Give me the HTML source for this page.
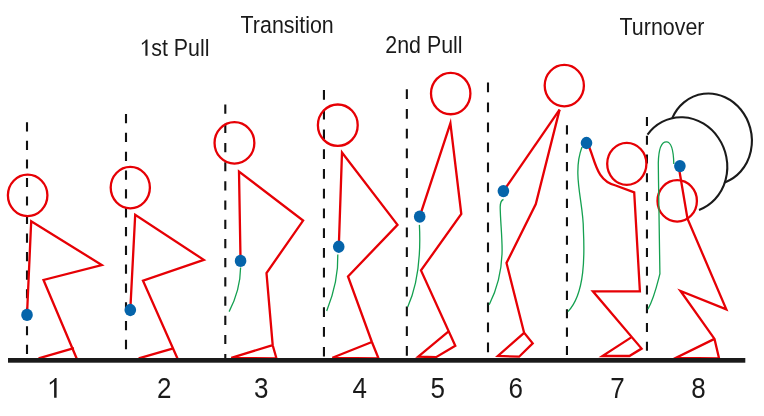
<!DOCTYPE html>
<html><head><meta charset="utf-8"><style>
html,body{margin:0;padding:0;background:#fff;width:764px;height:416px;overflow:hidden}
svg{display:block}
.t,text{will-change:transform}
text{font-family:"Liberation Sans",sans-serif;fill:#1a1a1a}
.r{fill:none;stroke:#e60005;stroke-width:2.3;stroke-linejoin:miter;stroke-miterlimit:5}
.g{fill:none;stroke:#14a050;stroke-width:1.3}
.d{stroke:#111;stroke-width:2.1}
.k{fill:none;stroke:#1a1a1a;stroke-width:2.1}
.b{fill:#0564aa}
</style></head><body>
<svg width="764" height="416" viewBox="0 0 764 416">
<!-- labels -->
<g class="t">
<text transform="translate(240.6 32.8) scale(1 1.08)" font-size="21.4">Transition</text>
<path d="M147.5,39.4 L147.5,55.8 L145.4,55.8 L145.4,42.3 C144.5,43.2 143.4,44.1 142.3,44.8 L141.9,44.5 L141.9,43.1 C143.6,42.1 145.2,40.8 146.2,39.4 Z" fill="#1a1a1a"/>
<text transform="translate(151.2 55.9) scale(1 1.08)" font-size="21.4">st Pull</text>
<text transform="translate(385.3 52.6) scale(1 1.08)" font-size="21.4">2nd Pull</text>
<text transform="translate(619.6 34.7) scale(1 1.08)" font-size="21.4">Turnover</text>
</g>
<!-- dashed lines -->
<line class="d" x1="27" y1="122.3" x2="27" y2="353.88" stroke-dasharray="9.1 9.44"/>
<line class="d" x1="126" y1="114" x2="126" y2="349.14" stroke-dasharray="9.3 9.52"/>
<line class="d" x1="225.3" y1="104.6" x2="225.3" y2="358.00" stroke-dasharray="9.2 9.99"/>
<line class="d" x1="323.95" y1="90" x2="323.95" y2="356.58" stroke-dasharray="9.7 10.06"/>
<line class="d" x1="406.85" y1="89.3" x2="406.85" y2="355.65" stroke-dasharray="9.6 10.15"/>
<line class="d" x1="488" y1="82.6" x2="488" y2="352.20" stroke-dasharray="9.6 10.4"/>
<line class="d" x1="566.95" y1="125.3" x2="566.95" y2="355.08" stroke-dasharray="9.1 9.29"/>
<line class="d" x1="646.95" y1="117" x2="646.95" y2="350.76" stroke-dasharray="9 9.73"/>

<!-- heads -->
<ellipse class="r" cx="27.65" cy="195.35" rx="19.75" ry="20.7"/>
<ellipse class="r" cx="130.3" cy="187.6" rx="19.6" ry="20.7"/>
<ellipse class="r" cx="234.45" cy="142.9" rx="19.9" ry="20.7"/>
<ellipse class="r" cx="337.8" cy="125.2" rx="19.9" ry="20.7"/>
<ellipse class="r" cx="450.7" cy="93.55" rx="19.7" ry="20.7"/>
<ellipse class="r" cx="564.3" cy="85.6" rx="19.6" ry="20.7"/>
<ellipse class="r" cx="626.8" cy="163.85" rx="19.6" ry="20.95"/>
<ellipse class="r" cx="677.2" cy="200.9" rx="19.7" ry="20.7"/>

<!-- barbell plates fig 8 -->
<path class="k" d="M672.22,118.14 A41.60,45.80 -12.5 1 1 724.87,182.39"/>
<path class="k" d="M647.52,134.59 A44.00,47.90 -16 1 1 699.01,209.93"/>

<!-- fig 1 -->
<path class="r" d="M27,314.8 L31.2,221.3 L101.8,265 L43.5,280 L77,359.2"/>
<path class="r" d="M73.9,348.2 L38.6,358.4"/>
<!-- fig 2 -->
<path class="r" d="M130.3,310 L135.2,214.7 L203.8,259.9 L143,280.6 L177.7,359"/>
<path class="r" d="M173.3,348.3 L138.7,358.4"/>
<!-- fig 3 -->
<path class="r" d="M240.55,260.9 L239,171.5 L303.1,220.6 L266.5,273 L272.7,345.2 L276.5,358.5 L231.3,357.8 L272.7,345.2"/>
<path class="g" d="M240.6,267.5 C240.4,282.5 236,298.3 229.1,311.6"/>
<!-- fig 4 -->
<path class="r" d="M338.8,246.9 L342,152.5 L397.5,224.8 L348,276.5 L371.9,342 L378.6,358.5 L332.4,357.8 L371.9,342"/>
<path class="g" d="M337.8,254.5 C338.4,274.2 333.9,292.9 326.7,311.1"/>
<!-- fig 5 -->
<path class="r" d="M419.7,216.65 L450.4,123.3 L461.3,214 L421,270.4 L455.3,345.8 L436.1,357.2 L418.2,356.6 L448.3,331.6"/>
<path class="g" d="M419.4,224.9 C420.8,252.6 419,281.4 407.7,307.1"/>
<!-- fig 6 -->
<path class="r" d="M503.4,191.1 L559.6,109.6"/>
<path class="r" d="M559.6,109.6 L535.8,204.1 L506.5,263 L524.1,332.8 L532.7,343.4 L519.1,356.7 L497.9,355.9 L524.1,332.8"/>
<path class="g" d="M503.5,199.4 C501,200.5 500.2,203 500.2,207 C500.3,220 502.1,235 502.1,250 C502,269.1 497.8,287.6 489.2,304.8"/>
<!-- fig 7 -->
<path class="r" d="M586.5,143 L588.5,145.5 C595.3,160.4 596,180.8 615.7,185.5 L634.2,192.3 L639.9,291.3 L592.9,291.3 L641.6,348.6 L629.4,356 L602.4,356 L632.4,336.6"/>
<path class="g" d="M582,147.1 C571.8,174 583.6,202.5 583.4,230 C584.5,253.4 585.4,293.7 567.9,311.6"/>
<!-- fig 8 -->
<path class="r" d="M678.6,166 L687.5,218.7 L726.3,309.3 L680.5,291 L714.5,338.9 L719.1,358.5 L676.2,357.8 L714.5,338.9"/>
<path class="g" d="M673.8,164 C673.5,150 671,141.9 666.4,141.9 C661.5,141.9 658.6,150 658.3,163 L658.5,180 L659.9,273.8 C656.8,285.8 654.1,298.3 647.9,309.2"/>

<!-- dots -->
<ellipse class="b" cx="27" cy="314.9" rx="5.8" ry="6.15"/>
<ellipse class="b" cx="130.3" cy="310" rx="5.8" ry="6.15"/>
<ellipse class="b" cx="240.55" cy="260.9" rx="5.8" ry="6.15"/>
<ellipse class="b" cx="338.75" cy="246.75" rx="5.8" ry="6.15"/>
<ellipse class="b" cx="419.7" cy="216.65" rx="5.8" ry="6.15"/>
<ellipse class="b" cx="503.4" cy="191.1" rx="5.8" ry="6.15"/>
<ellipse class="b" cx="586.5" cy="143" rx="5.8" ry="6.15"/>
<ellipse class="b" cx="679.9" cy="166.1" rx="5.8" ry="6.15"/>

<!-- ground -->
<rect x="8" y="358" width="737.3" height="4.7" fill="#1a1a1a"/>

<!-- numbers -->
<path d="M56.6,378.1 L56.6,397.75 L54.1,397.75 L54.1,381.6 C53,382.7 51.6,383.8 50.4,384.6 L49.8,384.3 L49.8,382.6 C51.9,381.4 54,379.8 55.1,378.1 Z" fill="#1a1a1a"/>
<g font-size="26">
<text transform="translate(157.12 398) scale(1 1.135)">2</text>
<text transform="translate(253.95 398) scale(1 1.135)">3</text>
<text transform="translate(352.45 398) scale(1 1.135)">4</text>
<text transform="translate(430.45 398) scale(1 1.135)">5</text>
<text transform="translate(508.47 398) scale(1 1.135)">6</text>
<text transform="translate(610.17 398) scale(1 1.135)">7</text>
<text transform="translate(691.15 398) scale(1 1.135)">8</text>
</g>
</svg>
</body></html>
